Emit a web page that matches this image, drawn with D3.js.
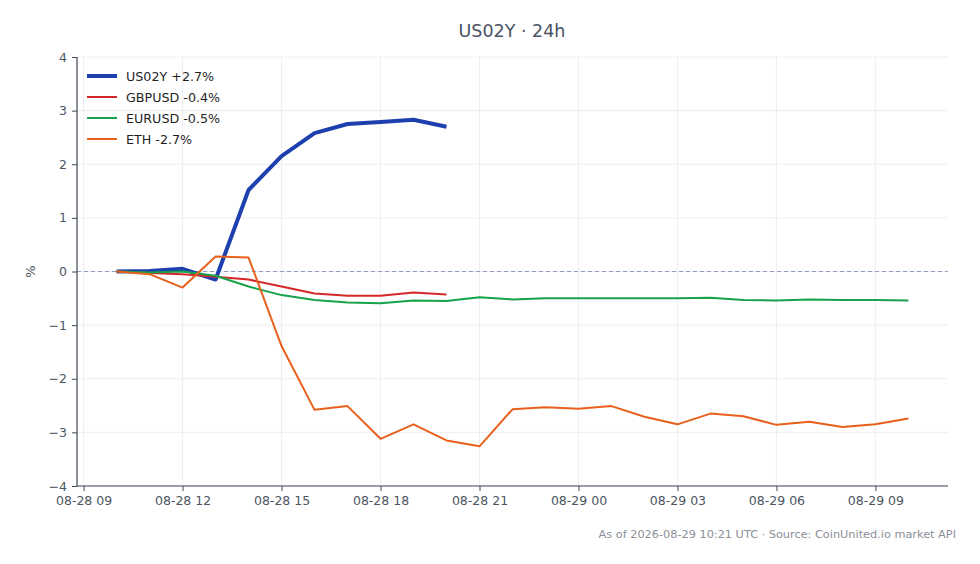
<!DOCTYPE html>
<html>
<head>
<meta charset="utf-8">
<script src="https://cdn.jsdelivr.net/npm/d3@7"></script>
<style>
  body { margin: 0; background: #fff; }
  svg { font-family: "DejaVu Sans", sans-serif; }
</style>
</head>
<body>
<div id="chart"></div>
<script>
// hourly points, 08-28 10:00 UTC .. 08-29 10:00 UTC
var startTime = "2026-08-28T10:00:00Z";
var us02y  = [0.00, 0.01, 0.05, -0.15, 1.52, 2.15, 2.58, 2.75, 2.79, 2.83, 2.70];
var gbpusd = [0.00, -0.03, -0.05, -0.10, -0.15, -0.28, -0.41, -0.45, -0.45, -0.39, -0.43];
var eurusd = [0.00, -0.02, 0.00, -0.08, -0.28, -0.44, -0.53, -0.58, -0.59, -0.54, -0.55,
  -0.48, -0.52, -0.50, -0.50, -0.50, -0.50, -0.50, -0.49, -0.53, -0.54, -0.52, -0.53, -0.53, -0.54];
var eth    = [0.00, -0.05, -0.30, 0.28, 0.26, -1.39, -2.58, -2.51, -3.12, -2.85, -3.15,
  -3.26, -2.57, -2.53, -2.56, -2.51, -2.71, -2.85, -2.65, -2.70, -2.86, -2.80, -2.90, -2.85, -2.74];
var seriesNames = ["US02Y +2.7%", "GBPUSD -0.4%", "EURUSD -0.5%", "ETH -2.7%"];
var yTicks = [-4, -3, -2, -1, 0, 1, 2, 3, 4];

var width = 980, height = 564;
var margin = {top: 57, right: 32, bottom: 78, left: 77};
var figw = width - margin.left - margin.right;
var figh = height - margin.top - margin.bottom;

var colors = ["#1e40af", "#d62728", "#16a34a", "#e8601c"];
var widths = [4, 2, 2, 2];

var t0 = new Date(startTime);
var hour = 3600 * 1000;
var series = [us02y, gbpusd, eurusd, eth].map(function(vals, i) {
	return {
		name: seriesNames[i],
		color: colors[i],
		width: widths[i],
		values: vals.map(function(v, j) { return {t: new Date(+t0 + j * hour), v: v}; })
	};
});

// 5% padding on each side of the 24h span
var pad = 1.2 * hour;
var x = d3.scaleUtc()
	.domain([new Date(+t0 - pad), new Date(+t0 + 24 * hour + pad)])
	.range([margin.left, margin.left + figw]);
var y = d3.scaleLinear()
	.domain([-4, 4])
	.range([margin.top + figh, margin.top]);

var svg = d3.select("#chart").append("svg")
	.attr("width", width)
	.attr("height", height);

var xTicks = d3.utcHour.every(3).range(new Date("2026-08-28T09:00:00Z"), new Date("2026-08-29T10:00:00Z"));

// grid
svg.append("g").selectAll("line")
	.data(yTicks).enter().append("line")
	.attr("x1", margin.left).attr("x2", margin.left + figw)
	.attr("y1", function(d) { return y(d); }).attr("y2", function(d) { return y(d); })
	.style("stroke", "#e8eaee").style("stroke-width", 0.8);
svg.append("g").selectAll("line")
	.data(xTicks).enter().append("line")
	.attr("y1", margin.top).attr("y2", margin.top + figh)
	.attr("x1", function(d) { return x(d); }).attr("x2", function(d) { return x(d); })
	.style("stroke", "#e8eaee").style("stroke-width", 0.8);

// zero line
svg.append("line")
	.attr("x1", margin.left).attr("x2", margin.left + figw)
	.attr("y1", y(0)).attr("y2", y(0))
	.style("stroke", "#8e9fc0")
	.style("stroke-width", 1)
	.style("stroke-dasharray", "4, 3");

var line = d3.line()
	.x(function(d) { return x(d.t); })
	.y(function(d) { return y(d.v); });

// draw thick blue first so the thinner lines sit on top
svg.append("g").selectAll("path")
	.data(series).enter().append("path")
	.attr("d", function(d) { return line(d.values); })
	.style("fill", "none")
	.style("stroke", function(d) { return d.color; })
	.style("stroke-width", function(d) { return d.width; })
	.style("stroke-linejoin", "round");

// axes
var xAxis = d3.axisBottom(x)
	.tickValues(xTicks)
	.tickSize(5)
	.tickPadding(5)
	.tickFormat(d3.utcFormat("%m-%d %H"));
var yAxis = d3.axisLeft(y)
	.tickValues(yTicks)
	.tickSize(5)
	.tickPadding(5)
	.tickFormat(function(d) { return d < 0 ? "\u2212" + Math.abs(d) : d; });

var gx = svg.append("g")
	.attr("transform", "translate(0," + (margin.top + figh) + ")")
	.call(xAxis)
	.attr("font-family", "DejaVu Sans")
	.attr("font-size", 12.5);
gx.select(".domain").remove();
gx.selectAll(".tick line").style("stroke", "#3f4656");
gx.selectAll(".tick text").style("fill", "#4b5563");
svg.append("line")
	.attr("x1", margin.left).attr("x2", margin.left + figw)
	.attr("y1", margin.top + figh).attr("y2", margin.top + figh)
	.style("stroke", "#3f4656").style("stroke-width", 1.2);

var gy = svg.append("g")
	.attr("transform", "translate(" + margin.left + ",0)")
	.call(yAxis)
	.attr("font-family", "DejaVu Sans")
	.attr("font-size", 12.5);
gy.select(".domain").remove();
gy.selectAll(".tick line").style("stroke", "#3f4656");
gy.selectAll(".tick text").style("fill", "#4b5563");
svg.append("line")
	.attr("x1", margin.left).attr("x2", margin.left)
	.attr("y1", margin.top).attr("y2", margin.top + figh)
	.style("stroke", "#3f4656").style("stroke-width", 1.2);

svg.append("text")
	.text("%")
	.style("text-anchor", "middle")
	.style("font-size", "13px")
	.style("fill", "#4b5563")
	.attr("transform", "translate(35," + y(0) + ") rotate(-90)");

// title
svg.append("text")
	.text("US02Y \u00b7 24h")
	.attr("x", 512).attr("y", 37)
	.style("text-anchor", "middle")
	.style("font-size", "17.5px")
	.style("fill", "#4a5263");

// footer
svg.append("text")
	.text("As of 2026-08-29 10:21 UTC \u00b7 Source: CoinUnited.io market API")
	.attr("x", 956).attr("y", 538)
	.style("text-anchor", "end")
	.style("font-size", "11.3px")
	.style("fill", "#8a8f98");

// legend
var legend = svg.append("g")
	.attr("transform", "translate(87,76)");
series.forEach(function(s, i) {
	legend.append("line")
		.attr("x1", 0).attr("x2", 30)
		.attr("y1", i * 21).attr("y2", i * 21)
		.style("stroke", s.color)
		.style("stroke-width", s.width);
	legend.append("text")
		.text(s.name)
		.attr("x", 39).attr("y", i * 21 + 4.5)
		.style("font-size", "12.7px")
		.style("fill", "#1f1f1f");
});
</script>
</body>
</html>
